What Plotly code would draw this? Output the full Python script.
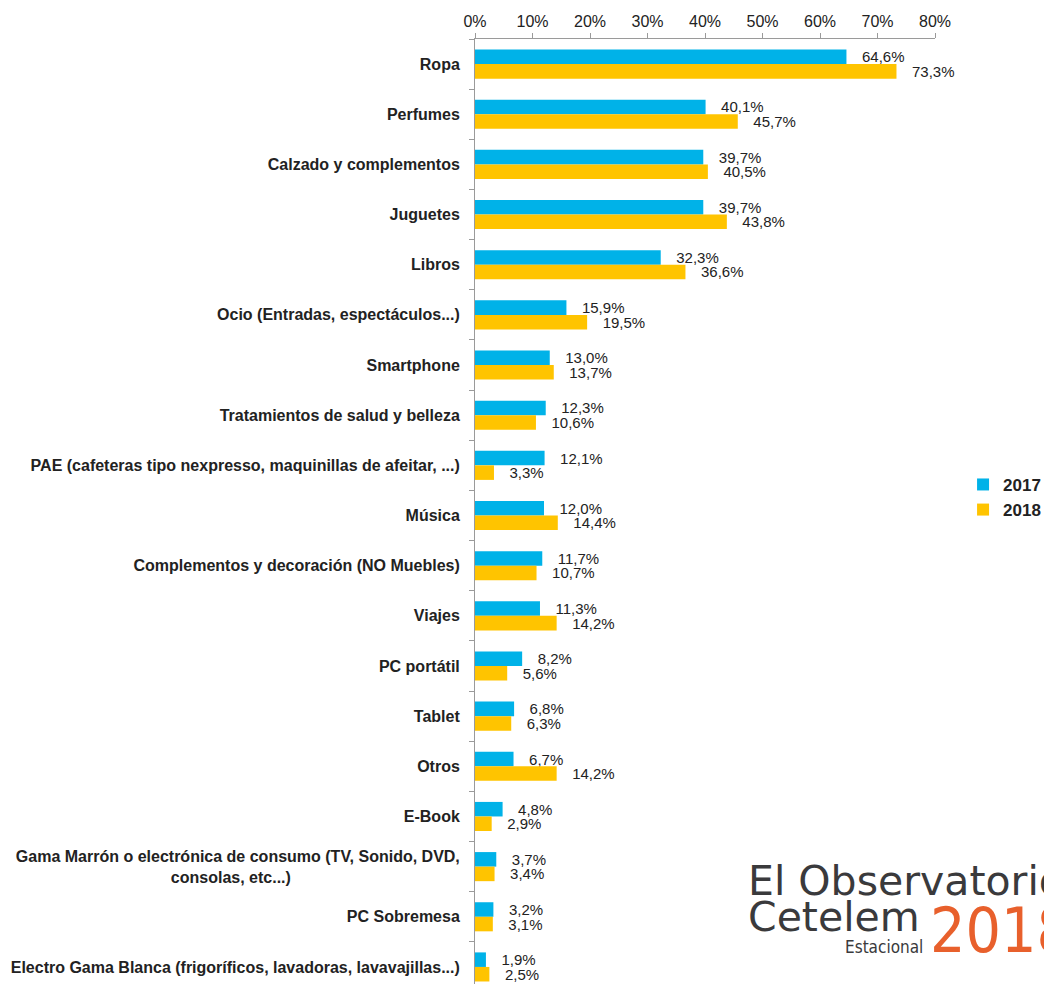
import plotly.graph_objects as go

categories = [
    "Ropa",
    "Perfumes",
    "Calzado y complementos",
    "Juguetes",
    "Libros",
    "Ocio (Entradas, espectáculos...)",
    "Smartphone",
    "Tratamientos de salud y belleza",
    "PAE (cafeteras tipo nexpresso, maquinillas de afeitar, ...)",
    "Música",
    "Complementos y decoración (NO Muebles)",
    "Viajes",
    "PC portátil",
    "Tablet",
    "Otros",
    "E-Book",
    "Gama Marrón o electrónica de consumo (TV, Sonido, DVD,<br>consolas, etc...)" + "\u00a0" * 38,
    "PC Sobremesa",
    "Electro Gama Blanca (frigoríficos, lavadoras, lavavajillas...)",
]
values_2017 = [64.6, 40.1, 39.7, 39.7, 32.3, 15.9, 13.0, 12.3, 12.1, 12.0, 11.7, 11.3, 8.2, 6.8, 6.7, 4.8, 3.7, 3.2, 1.9]
values_2018 = [73.3, 45.7, 40.5, 43.8, 36.6, 19.5, 13.7, 10.6, 3.3, 14.4, 10.7, 14.2, 5.6, 6.3, 14.2, 2.9, 3.4, 3.1, 2.5]
series_names = ["2017", "2018"]
x_ticks = [0, 10, 20, 30, 40, 50, 60, 70, 80]
x_tick_labels = ["0%", "10%", "20%", "30%", "40%", "50%", "60%", "70%", "80%"]

BLUE = "#00b2e8"
YELLOW = "#ffc400"
TEXT = "#222222"
LOGO = "#3a3a3c"


def fmt(v):
    return "\u00a0\u00a0\u00a0" + f"{v:.1f}".replace(".", ",") + "%"


fig = go.Figure()
for name, vals, col in [(series_names[0], values_2017, BLUE), (series_names[1], values_2018, YELLOW)]:
    fig.add_trace(go.Bar(
        y=categories,
        x=vals,
        orientation="h",
        name=name,
        marker=dict(color=col, line=dict(width=0)),
        text=[fmt(v) for v in vals],
        textposition="outside",
        constraintext="none",
        cliponaxis=False,
        textfont=dict(family="Liberation Sans, Arial", size=15, color=TEXT),
    ))

fig.update_layout(
    width=1044,
    height=976,
    margin=dict(l=467, r=117, t=31, b=0),
    paper_bgcolor="white",
    plot_bgcolor="white",
    barmode="group",
    bargap=0.42,
    bargroupgap=0,
    font=dict(family="Liberation Sans, Arial", color=TEXT),
    showlegend=True,
    legend=dict(
        x=1.061, y=0.5149, xanchor="left", yanchor="middle",
        font=dict(size=17, color=TEXT, weight="bold"),
        tracegroupgap=4,
        bgcolor="rgba(0,0,0,0)",
    ),
    xaxis=dict(
        side="top",
        range=[0, 80],
        tickvals=x_ticks,
        ticktext=x_tick_labels,
        ticks="outside",
        ticklen=5,
        tickcolor="#9a9a9a",
        showline=True,
        linecolor="#9a9a9a",
        linewidth=1,
        showgrid=False,
        zeroline=False,
        tickfont=dict(size=16, color=TEXT),
    ),
    yaxis=dict(
        range=[18.34, -0.5],
        ticks="outside",
        tickson="boundaries",
        ticklen=5,
        tickcolor="#9a9a9a",
        showline=True,
        linecolor="#9a9a9a",
        linewidth=1,
        showgrid=False,
        zeroline=False,
        tickfont=dict(size=16, color=TEXT, weight="bold"),
        ticklabelstandoff=11,
    ),
)

# Watermark (logo text)
fig.add_annotation(
    x=0.589, y=0.1093, xref="paper", yref="paper", xanchor="left", yanchor="middle",
    text="El Observatorio", showarrow=False,
    font=dict(family="DejaVu Sans", size=41, color=LOGO),
)
fig.add_annotation(
    x=0.589, y=0.0709, xref="paper", yref="paper", xanchor="left", yanchor="middle",
    text="Cetelem", showarrow=False,
    font=dict(family="DejaVu Sans", size=41, color=LOGO),
)
fig.add_annotation(
    x=0.978, y=0.0392, xref="paper", yref="paper", xanchor="right", yanchor="middle",
    text="Estacional", showarrow=False,
    font=dict(family="Liberation Sans Narrow, DejaVu Sans Condensed", size=17, color=LOGO),
)
fig.add_annotation(
    x=0.9837, y=0.0565, xref="paper", yref="paper", xanchor="left", yanchor="middle",
    text="2018", showarrow=False,
    font=dict(family="Liberation Sans Narrow, DejaVu Sans Condensed", size=62, color="#e8602c"),
)

fig.write_html("out.html")
